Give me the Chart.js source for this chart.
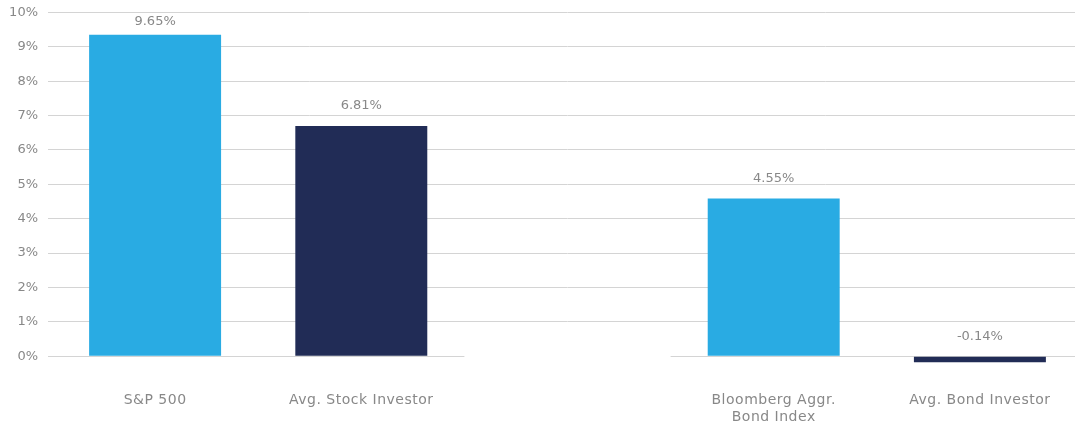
<!DOCTYPE html>
<html>
<head>
<meta charset="utf-8">
<script src="https://cdn.jsdelivr.net/npm/chart.js@4.4.1/dist/chart.umd.min.js"></script>
<style>
  html, body { margin: 0; padding: 0; background: #ffffff; overflow: hidden; width: 1075px; height: 428px; }
  #wrap { position: relative; width: 1083px; height: 428px; }
</style>
</head>
<body>
<div id="wrap"><canvas id="c"></canvas></div>
<script>
const categories = ['S&P 500', 'Avg. Stock Investor', '', ['Bloomberg Aggr.', 'Bond Index'], 'Avg. Bond Investor'];
const barValues = [9.35, 6.70, null, 4.59, -0.18];
const valueLabels = ['9.65%', '6.81%', '', '4.55%', '-0.14%'];
const barColors = ['#29ABE3', '#212C56', '#ffffff', '#29ABE3', '#212C56'];
const yTickValues = [0, 1, 2, 3, 4, 5, 6, 7, 8, 9, 10];

const FONT = '"DejaVu Sans", sans-serif';
const TEXT = '#888888';
const GRID = '#d4d4d4';

const zeroLinePlugin = {
  id: 'zeroLine',
  beforeDatasetsDraw(chart) {
    const { ctx, chartArea, scales } = chart;
    const y = Math.round(scales.y.getPixelForValue(0)) + 0.5;
    const gapStart = scales.x.getPixelForValue(1.5);
    const gapEnd = scales.x.getPixelForValue(2.5);
    ctx.save();
    ctx.strokeStyle = GRID;
    ctx.lineWidth = 1;
    ctx.beginPath();
    ctx.moveTo(chartArea.left - 4, y);
    ctx.lineTo(gapStart, y);
    ctx.moveTo(gapEnd, y);
    ctx.lineTo(chartArea.right, y);
    ctx.stroke();
    ctx.restore();
  }
};

const spacingPlugin = {
  id: 'xLabelSpacing',
  afterLayout(chart) {
    const s = chart.scales.x;
    if (s && !s._spaced) {
      const orig = s.drawLabels.bind(s);
      s.drawLabels = function (area) {
        const ctx = this.ctx;
        ctx.save();
        ctx.letterSpacing = '0.5px';
        orig(area);
        ctx.restore();
      };
      s._spaced = true;
    }
  }
};

const valueLabelPlugin = {
  id: 'valueLabels',
  afterDatasetsDraw(chart) {
    const { ctx, chartArea } = chart;
    const meta = chart.getDatasetMeta(0);
    ctx.save();
    ctx.font = '13px ' + FONT;
    ctx.fillStyle = TEXT;
    ctx.textAlign = 'center';
    ctx.textBaseline = 'middle';
    meta.data.forEach((bar, i) => {
      if (!valueLabels[i]) return;
      const top = Math.min(bar.y, bar.base);
      const y = Math.max(top - 20, chartArea.top + 9);
      ctx.fillText(valueLabels[i], bar.x, y);
    });
    ctx.restore();
  }
};

new Chart(document.getElementById('c'), {
  type: 'bar',
  data: {
    labels: categories,
    datasets: [{
      data: barValues,
      backgroundColor: barColors,
      borderWidth: 0,
      categoryPercentage: 1,
      barPercentage: 0.64
    }]
  },
  options: {
    responsive: true,
    maintainAspectRatio: false,
    animation: false,
    layout: { padding: { top: 12.5, right: 0, left: 0, bottom: 0 } },
    plugins: { legend: { display: false }, tooltip: { enabled: false } },
    scales: {
      x: {
        afterFit(scale) { scale.height = 65; },
        grid: { display: false, drawTicks: false },
        border: { display: false },
        ticks: { color: TEXT, font: { family: FONT, size: 14, lineHeight: 1.2 }, padding: 29, maxRotation: 0, autoSkip: false }
      },
      y: {
        min: -0.2,
        max: 10,
        afterBuildTicks(scale) {
          scale.ticks = yTickValues.map(v => ({ value: v }));
        },
        afterFit(scale) {
          scale.width = 52;
          scale.paddingTop = 0;
          scale.paddingBottom = 0;
        },
        grid: {
          color: ctx => (ctx.tick && ctx.tick.value === 0) ? 'rgba(0,0,0,0)' : GRID,
          lineWidth: 1,
          tickLength: 4,
          drawTicks: true
        },
        border: { display: false },
        ticks: {
          color: TEXT,
          padding: 10,
          font: { family: FONT, size: 13 },
          callback: v => v + '%'
        }
      }
    }
  },
  plugins: [zeroLinePlugin, spacingPlugin, valueLabelPlugin]
});
</script>
</body>
</html>
